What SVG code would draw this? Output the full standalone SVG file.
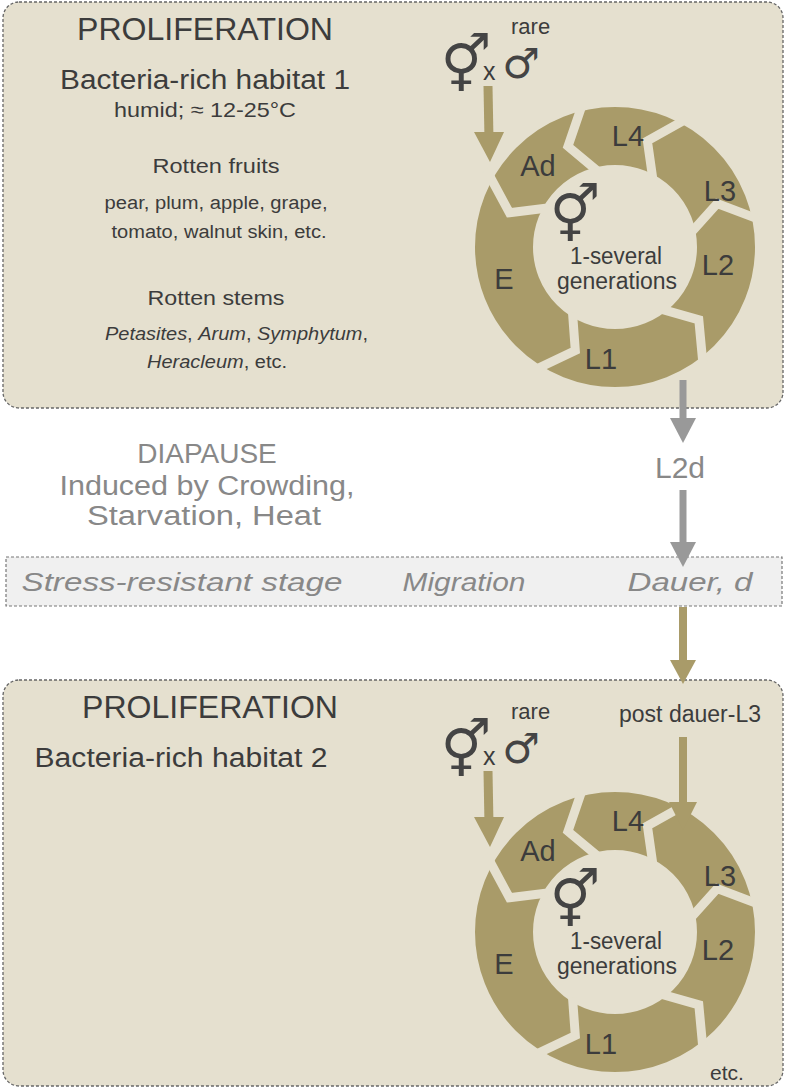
<svg xmlns="http://www.w3.org/2000/svg" width="787" height="1089" viewBox="0 0 787 1089">
<style>
.box{fill:#e5e0cf;stroke:#666;stroke-width:1.3;stroke-dasharray:3 2}
.t{font-family:"Liberation Sans",Arial,sans-serif;fill:#3c3c3c}
.g{font-family:"Liberation Sans",Arial,sans-serif;fill:#888}
.ring{fill:none;stroke:#a99b69;stroke-width:58}
.gap{fill:none;stroke:#e5e0cf;stroke-width:9;stroke-linejoin:miter}
.sym{font-family:"DejaVu Sans",sans-serif;fill:#444;font-weight:bold}
.lab{font-family:"Liberation Sans",Arial,sans-serif;fill:#3c3c3c;font-size:29px;text-anchor:middle}
</style>
<defs>
<g id="cycle">
<circle class="ring" cx="615" cy="247" r="111"/>
<polyline class="gap" points="547.5,208 509.4,212.7 488.6,174 484,171"/>
<polyline class="gap" points="572.5,312.4 575.3,350.6 535.4,369.5"/>
<polyline class="gap" points="662,309.3 698.8,319.8 702.9,363.6"/>
<polyline class="gap" points="691.6,232.1 717.2,203.6 758.4,219.1"/>
<polyline class="gap" points="652.8,178.8 647.4,140.9 685.8,119.3"/>
<polyline class="gap" points="597.5,171 568,146.4 582.2,104.8"/>
<text class="lab" x="538" y="176">Ad</text>
<text class="lab" x="628" y="146">L4</text>
<text class="lab" x="720" y="201">L3</text>
<text class="lab" x="718" y="275">L2</text>
<text class="lab" x="601" y="369">L1</text>
<text class="lab" x="504" y="289">E</text>
<text class="sym" x="575" y="234" font-size="56" text-anchor="middle">⚥</text>
<text class="t" x="616" y="264" font-size="23" text-anchor="middle" textLength="92" lengthAdjust="spacingAndGlyphs">1-several</text>
<text class="t" x="617" y="289" font-size="23" text-anchor="middle" textLength="120" lengthAdjust="spacingAndGlyphs">generations</text>
<text class="sym" x="466" y="84" font-size="56" text-anchor="middle">⚥</text>
<text class="t" x="483" y="80" font-size="25">x</text>
<text class="sym" x="521" y="78" font-size="42" text-anchor="middle">♂</text>
<text class="t" x="511" y="34" font-size="22">rare</text>
<line x1="488" y1="86" x2="489" y2="140" stroke="#a99b69" stroke-width="9"/>
<polygon points="474,132 504,132 490,162" fill="#a99b69"/>
</g>
</defs>
<g id="panel1">
<rect class="box" x="3" y="2" width="780" height="406" rx="16"/>
<text class="t" x="205" y="40" font-size="31" text-anchor="middle" textLength="256" lengthAdjust="spacingAndGlyphs">PROLIFERATION</text>
<text class="t" x="205" y="89" font-size="27" text-anchor="middle" textLength="290" lengthAdjust="spacingAndGlyphs">Bacteria-rich habitat 1</text>
<text class="t" x="205" y="117" font-size="21" text-anchor="middle" textLength="182" lengthAdjust="spacingAndGlyphs">humid; ≈ 12-25°C</text>
<text class="t" x="216" y="173" font-size="21" text-anchor="middle" textLength="127" lengthAdjust="spacingAndGlyphs">Rotten fruits</text>
<text class="t" x="216" y="209" font-size="18" text-anchor="middle" textLength="223" lengthAdjust="spacingAndGlyphs">pear, plum, apple, grape,</text>
<text class="t" x="219" y="238" font-size="18" text-anchor="middle" textLength="215" lengthAdjust="spacingAndGlyphs">tomato, walnut skin, etc.</text>
<text class="t" x="216" y="305" font-size="21" text-anchor="middle" textLength="137" lengthAdjust="spacingAndGlyphs">Rotten stems</text>
<text class="t" x="105" y="340" font-size="18" textLength="263" lengthAdjust="spacingAndGlyphs"><tspan font-style="italic">Petasites</tspan>, <tspan font-style="italic">Arum</tspan>, <tspan font-style="italic">Symphytum</tspan>,</text>
<text class="t" x="147" y="368" font-size="18" textLength="140" lengthAdjust="spacingAndGlyphs"><tspan font-style="italic">Heracleum</tspan>, etc.</text>
<use href="#cycle"/>
</g>
<g id="diapause">
<text class="g" x="207" y="463" font-size="28" text-anchor="middle">DIAPAUSE</text>
<text class="g" x="207" y="495" font-size="27" text-anchor="middle" textLength="295" lengthAdjust="spacingAndGlyphs">Induced by Crowding,</text>
<text class="g" x="204" y="525" font-size="27" text-anchor="middle" textLength="234" lengthAdjust="spacingAndGlyphs">Starvation, Heat</text>
<text class="g" x="680" y="478" font-size="30" text-anchor="middle">L2d</text>
</g>
<g id="band">
<rect x="6" y="557" width="776" height="49" fill="#f0f0f0" stroke="#777" stroke-width="1.2" stroke-dasharray="3 2"/>
<text class="g" x="182" y="591" font-size="26" font-style="italic" text-anchor="middle" textLength="321" lengthAdjust="spacingAndGlyphs">Stress-resistant stage</text>
<text class="g" x="464" y="591" font-size="26" font-style="italic" text-anchor="middle" textLength="123" lengthAdjust="spacingAndGlyphs">Migration</text>
<text class="g" x="690" y="591" font-size="26" font-style="italic" text-anchor="middle" textLength="125" lengthAdjust="spacingAndGlyphs">Dauer, d</text>
</g>
<g id="panel2">
<rect class="box" x="3" y="680" width="780" height="406" rx="16"/>
<text class="t" x="210" y="718" font-size="31" text-anchor="middle" textLength="256" lengthAdjust="spacingAndGlyphs">PROLIFERATION</text>
<text class="t" x="181" y="767" font-size="27" text-anchor="middle" textLength="293" lengthAdjust="spacingAndGlyphs">Bacteria-rich habitat 2</text>
<text class="t" x="690" y="722" font-size="23" text-anchor="middle">post dauer-L3</text>
<text class="t" x="727" y="1080" font-size="21" text-anchor="middle">etc.</text>
<use href="#cycle" transform="translate(0,685)"/>
</g>
<g id="connectors">
<line x1="683" y1="380" x2="683" y2="420" stroke="#999" stroke-width="7"/>
<polygon points="670,418 696,418 683,443" fill="#999"/>
<line x1="683" y1="490" x2="683" y2="545" stroke="#999" stroke-width="7"/>
<polygon points="670,542 696,542 683,567" fill="#999"/>
<line x1="683" y1="607" x2="683" y2="662" stroke="#a99b69" stroke-width="8"/>
<polygon points="670,660 696,660 683,684" fill="#a99b69"/>
<line x1="683" y1="737" x2="683" y2="806" stroke="#a99b69" stroke-width="8"/>
<polygon points="669,802 697,802 683,830" fill="#a99b69"/>
</g>
</svg>
